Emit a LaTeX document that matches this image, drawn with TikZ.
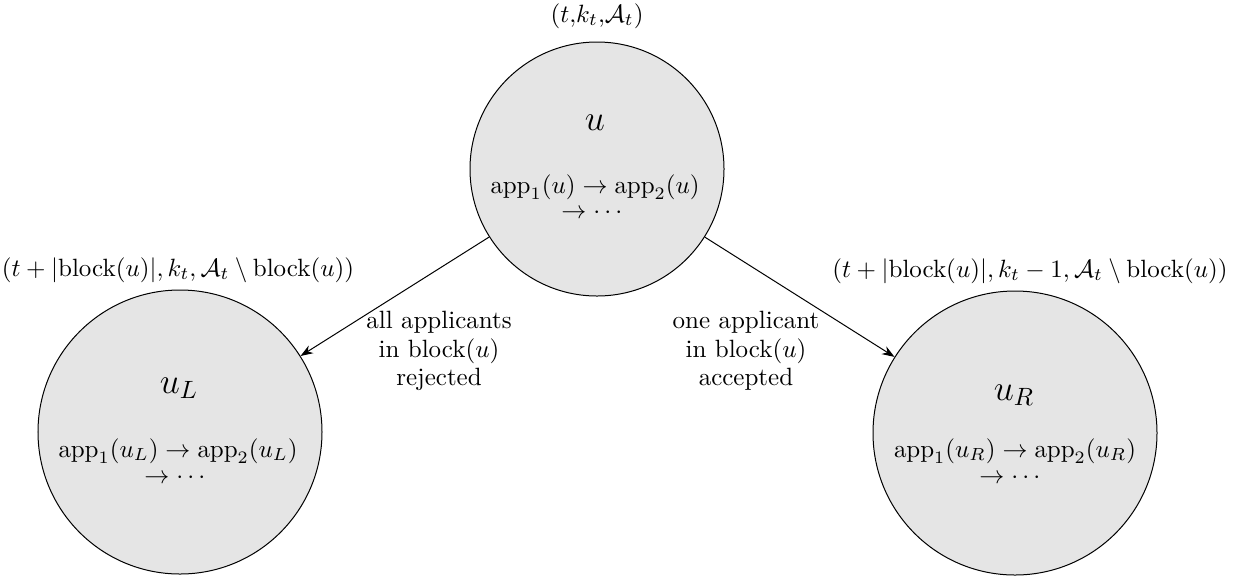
\documentclass[tikz,border=0pt]{standalone}
\usepackage{amsmath,amssymb}
\usetikzlibrary{arrows.meta}
\begin{document}
\begin{tikzpicture}[x=0.4pt,y=-0.4pt,
  state/.style={circle,draw,fill=black!10,inner sep=0pt,line width=0.4pt},
  arr/.style={-{Stealth[length=5pt,width=3.6pt]},line width=0.4pt},
  txt/.style={inner sep=0pt,anchor=base}]
\useasboundingbox (0,0) rectangle (1247,581);
% circles
\node[state,minimum size=101.6pt] (u) at (597,169) {};
\node[state,minimum size=113.6pt] (uL) at (180,432) {};
\node[state,minimum size=113.6pt] (uR) at (1015,433) {};
% connectors
\draw[arr] (u) -- (uL);
\draw[arr] (u) -- (uR);
% top node texts
\node[txt] (lu) at (597,22) {$(t{,}k_t{,}\mathcal{A}_t)$};
\node[txt,font=\Large] (nu) at (595,130) {$u$};
\node[txt] (au1) at (595,193) {$\mathrm{app}_1(u)\rightarrow\mathrm{app}_2(u)$};
\node[txt] (au2) at (594,218) {$\rightarrow\cdots$};
% left node texts
\node[txt] (luL) at (178,276) {$(t+|\mathrm{block}(u)|,k_t,\mathcal{A}_t\setminus\mathrm{block}(u))$};
\node[txt,font=\Large] (nuL) at (179,393) {$u_L$};
\node[txt] (auL1) at (178,457) {$\mathrm{app}_1(u_L)\rightarrow\mathrm{app}_2(u_L)$};
\node[txt] (auL2) at (177,483) {$\rightarrow\cdots$};
% right node texts
\node[txt] (luR) at (1030,277) {$(t+|\mathrm{block}(u)|,k_t-1,\mathcal{A}_t\setminus\mathrm{block}(u))$};
\node[txt,font=\Large] (nuR) at (1014,400) {$u_R$};
\node[txt] (auR1) at (1015,457) {$\mathrm{app}_1(u_R)\rightarrow\mathrm{app}_2(u_R)$};
\node[txt] (auR2) at (1012,483) {$\rightarrow\cdots$};
% edge labels
\node[txt] (el1) at (439,328) {all applicants};
\node[txt] (el2) at (439,357) {in block$(u)$};
\node[txt] (el3) at (439,385) {rejected};
\node[txt] (er1) at (746,328) {one applicant};
\node[txt] (er2) at (746,357) {in block$(u)$};
\node[txt] (er3) at (746,385) {accepted};
\end{tikzpicture}
\end{document}
